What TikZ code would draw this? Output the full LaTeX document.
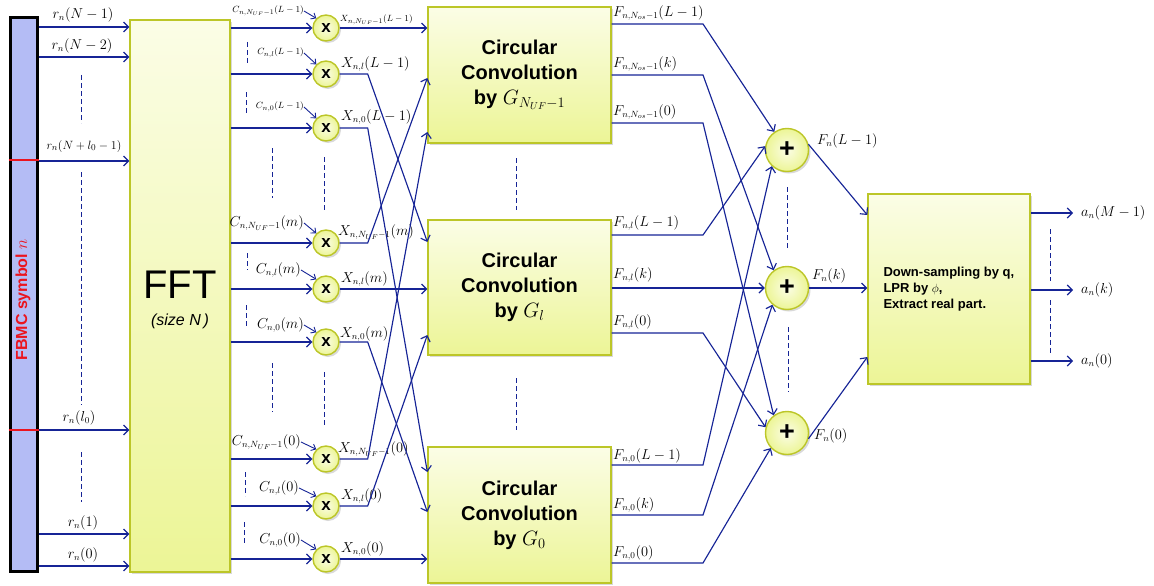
\documentclass[tikz,border=0pt]{standalone}
\usepackage{fontspec}
\setsansfont{Liberation Sans}
\usetikzlibrary{arrows.meta,shadows}
\definecolor{wire}{RGB}{22,36,150}
\definecolor{ytop}{RGB}{251,253,230}
\definecolor{ybot}{RGB}{236,245,150}
\definecolor{yedge}{RGB}{188,198,40}
\definecolor{barfill}{RGB}{180,188,245}
\definecolor{fbmcred}{RGB}{235,20,30}
\tikzset{
  arr/.style={draw=wire, line width=1.15pt, -{Straight Barb[length=5pt,width=10pt,line width=1.15pt]}},
  sarr/.style={draw=wire, line width=0.9pt, -{Straight Barb[length=4pt,width=7pt,line width=0.9pt]}},
  dsh/.style={draw=wire, line width=1pt, dash pattern=on 5pt off 3pt},
  shad/.style={drop shadow={opacity=0.3,shadow xshift=2pt,shadow yshift=-2pt}},
  ybox/.style={draw=yedge, line width=1.3pt, top color=ytop, bottom color=ybot, shad, inner sep=0pt},
  mult/.style={circle, draw=yedge, line width=1.4pt, inner color=ytop, outer color=ybot, shad,
    minimum size=26pt, inner sep=0pt, font=\sffamily\bfseries\fontsize{17}{17}\selectfont},
  adder/.style={circle, draw=yedge, line width=1.4pt, inner color=ytop, outer color=ybot, shad,
    minimum size=43pt, inner sep=0pt, font=\sffamily\bfseries\fontsize{27}{27}\selectfont},
  lab/.style={font=\fontsize{13.5}{15}\selectfont, inner sep=0pt},
  slab/.style={font=\fontsize{9.5}{11}\selectfont, inner sep=0pt},
  convtext/.style={align=center, font=\sffamily\bfseries\fontsize{20}{25}\selectfont},
}
\begin{document}
\begin{tikzpicture}[x=1pt,y=-1pt]
\useasboundingbox (0,0) rectangle (1154,586);
% left bar
\node[draw=black, line width=3pt, fill=barfill, minimum width=27pt, minimum height=553pt, inner sep=0pt] (lbar) at (23.5,294.5) {};
\draw[fbmcred, line width=1.6pt] (lbar.west |- 0,160) -- (lbar.east |- 0,160);
\draw[fbmcred, line width=1.6pt] (lbar.west |- 0,430) -- (lbar.east |- 0,430);
\node[rotate=90, text=fbmcred, font=\sffamily\bfseries\fontsize{16}{16}\selectfont] (fbmc) at (23,300) {FBMC symbol $n$};
% FFT
\node[ybox, minimum width=100pt, minimum height=552pt] (fft) at (180,296) {};
\node[font=\sffamily\fontsize{40}{40}\selectfont] (fftt) at (180,285) {FFT};
\node[font=\sffamily\itshape\fontsize{16}{16}\selectfont] (ffts) at (180,321) {(size N\,)};
% inputs
\foreach \yy/\nm in {27/i1,57/i2,161/i3,430/i4,534/i5,566/i6}{
  \draw[arr] (lbar.east |- 0,\yy) -- (fft.west |- 0,\yy);
}
\node[lab] (r1) at (83,15) {$r_n(N-1)$};
\node[lab] (r2) at (82,46) {$r_n(N-2)$};
\node[lab, font=\fontsize{12.5}{14}\selectfont] (r3) at (84,146) {$r_n(N+l_0-1)$};
\node[lab] (r4) at (79,418) {$r_n(l_0)$};
\node[lab] (r5) at (83,523) {$r_n(1)$};
\node[lab] (r6) at (83,555) {$r_n(0)$};
\draw[dsh] (81,75) -- (81,123);
\draw[dsh] (81,172) -- (81,405);
\draw[dsh] (81,452) -- (81,502);
% conv boxes
\node[ybox, minimum width=183pt, minimum height=136pt] (cT) at (519.5,75) {};
\node[ybox, minimum width=183pt, minimum height=135pt] (cM) at (519.5,287.5) {};
\node[ybox, minimum width=183pt, minimum height=136pt] (cB) at (519.5,515) {};
\node[convtext] (tT) at (519.5,75) {Circular\\Convolution\\by $G_{N_{UF}-1}$};
\node[convtext] (tM) at (519.5,287.5) {Circular\\Convolution\\by $G_{l}$};
\node[convtext] (tB) at (519.5,515) {Circular\\Convolution\\by $G_{0}$};
\draw[dsh] (516,158) -- (516,210);
\draw[dsh] (516,378) -- (516,430);
% multipliers
\foreach \nm/\yy in {m1/28,m2/74,m3/128,m4/243,m5/289,m6/342,m7/459,m8/506,m9/559}{
  \node[mult] (\nm) at (326,\yy) {x};
  \draw[arr] (fft.east |- \nm) -- (\nm);
}
% C labels
\node[slab, anchor=east] (c1) at (304,11) {$C_{n,N_{UF}-1}(L-1)$};
\node[slab, anchor=east] (c2) at (304,53) {$C_{n,l}(L-1)$};
\node[slab, anchor=east] (c3) at (304,107) {$C_{n,0}(L-1)$};
\node[lab, anchor=east] (c4) at (304,223) {$C_{n,N_{UF}-1}(m)$};
\node[lab, anchor=east] (c5) at (301,270) {$C_{n,l}(m)$};
\node[lab, anchor=east] (c6) at (304,325) {$C_{n,0}(m)$};
\node[lab, anchor=east] (c7) at (301,442) {$C_{n,N_{UF}-1}(0)$};
\node[lab, anchor=east] (c8) at (299,488) {$C_{n,l}(0)$};
\node[lab, anchor=east] (c9) at (301,540) {$C_{n,0}(0)$};
\foreach \i in {1,...,9}{ \draw[sarr] (c\i.east) -- (m\i.135); }
% X labels
\node[slab, anchor=west] (x1) at (340,20) {$X_{n,N_{UF}-1}(L-1)$};
\node[lab, anchor=west] (x2) at (341,64) {$X_{n,l}(L-1)$};
\node[lab, anchor=west] (x3) at (341,117) {$X_{n,0}(L-1)$};
\node[lab, anchor=west] (x4) at (338,232) {$X_{n,N_{UF}-1}(m)$};
\node[lab, anchor=west] (x5) at (341,279) {$X_{n,l}(m)$};
\node[lab, anchor=west] (x6) at (340,334) {$X_{n,0}(m)$};
\node[lab, anchor=west] (x7) at (338,449) {$X_{n,N_{UF}-1}(0)$};
\node[lab, anchor=west] (x8) at (341,496) {$X_{n,l}(0)$};
\node[lab, anchor=west] (x9) at (341,549) {$X_{n,0}(0)$};
% dashed in multiplier area
\draw[dsh] (247,42) -- (247,63);
\draw[dsh] (246,92) -- (246,115);
\draw[dsh] (272,148) -- (272,198);
\draw[dsh] (324,157) -- (324,212);
\draw[dsh] (247,253) -- (247,270);
\draw[dsh] (246,305) -- (246,327);
\draw[dsh] (272,363) -- (272,412);
\draw[dsh] (324,372) -- (324,425);
\draw[dsh] (245,472) -- (245,496);
\draw[dsh] (244,522) -- (244,545);
% X wiring
\draw[arr] (m1) -- (cT.west |- m1);
\draw[arr] (m2.east) -- ++(28,0) -- (cM.west |- 0,242);
\draw[arr] (m3.east) -- ++(28,0) -- (cB.west |- 0,472);
\draw[arr] (m4.east) -- ++(28,0) -- (cT.west |- 0,78);
\draw[arr] (m5) -- (cM.west |- m5);
\draw[arr] (m6.east) -- ++(28,0) -- (cB.west |- 0,512);
\draw[arr] (m7.east) -- ++(28,0) -- (cT.west |- 0,132);
\draw[arr] (m8.east) -- ++(28,0) -- (cM.west |- 0,335);
\draw[arr] (m9) -- (cB.west |- m9);
% adders
\node[adder] (a1) at (787,150) {+};
\node[adder] (a2) at (787,288) {+};
\node[adder] (a3) at (787,433) {+};
\draw[dsh] (787,187) -- (787,250);
\draw[dsh] (788,327) -- (788,392);
% F wiring
\draw[arr] (cT.east |- 0,24) -- (703,24) -- (a1.125);
\draw[arr] (cT.east |- 0,75) -- (703,75) -- (a2.127);
\draw[arr] (cT.east |- 0,123) -- (703,123) -- (a3.127);
\draw[arr] (cM.east |- 0,235) -- (703,235) -- (a1.170);
\draw[arr] (cM.east |- a2) -- (a2);
\draw[arr] (cM.east |- 0,333) -- (703,333) -- (a3.165);
\draw[arr] (cB.east |- 0,465) -- (703,465) -- (a1.227);
\draw[arr] (cB.east |- 0,515) -- (703,515) -- (a2.229);
\draw[arr] (cB.east |- 0,563) -- (703,563) -- (a3.223);
% F labels
\node[lab, anchor=west] (f1) at (613,13) {$F_{n,N_{os}-1}(L-1)$};
\node[lab, anchor=west] (f2) at (613,64) {$F_{n,N_{os}-1}(k)$};
\node[lab, anchor=west] (f3) at (613,112) {$F_{n,N_{os}-1}(0)$};
\node[lab, anchor=west] (f4) at (613,223) {$F_{n,l}(L-1)$};
\node[lab, anchor=west] (f5) at (613,275) {$F_{n,l}(k)$};
\node[lab, anchor=west] (f6) at (613,322) {$F_{n,l}(0)$};
\node[lab, anchor=west] (f7) at (613,456) {$F_{n,0}(L-1)$};
\node[lab, anchor=west] (f8) at (613,505) {$F_{n,0}(k)$};
\node[lab, anchor=west] (f9) at (613,553) {$F_{n,0}(0)$};
% right box
\node[ybox, minimum width=162pt, minimum height=190pt] (rb) at (949,289) {};
\node[anchor=west, align=left, font=\sffamily\bfseries\fontsize{13}{16}\selectfont] (rbt) at (880,289) {Down-sampling by q,\\LPR by $\phi$,\\Extract real part.};
\draw[arr] (a1.15) -- (rb.west |- 0,215);
\draw[arr] (a2) -- (rb.west |- a2);
\draw[arr] (a3.-15) -- (rb.west |- 0,357);
\node[lab, anchor=west] (s1) at (817,141) {$F_n(L-1)$};
\node[lab, anchor=west] (s2) at (812,276) {$F_n(k)$};
\node[lab, anchor=west] (s3) at (814,436) {$F_n(0)$};
% outputs
\coordinate (o1) at (1073,213);
\coordinate (o2) at (1073,290);
\coordinate (o3) at (1073,361);
\draw[arr] (rb.east |- o1) -- (o1);
\draw[arr] (rb.east |- o2) -- (o2);
\draw[arr] (rb.east |- o3) -- (o3);
\node[lab, anchor=west] (y1) at (1081,213) {$a_n(M-1)$};
\node[lab, anchor=west] (y2) at (1081,290) {$a_n(k)$};
\node[lab, anchor=west] (y3) at (1081,361) {$a_n(0)$};
\draw[dsh] (1050,229) -- (1050,281);
\draw[dsh] (1050,300) -- (1050,353);
\end{tikzpicture}
\end{document}
